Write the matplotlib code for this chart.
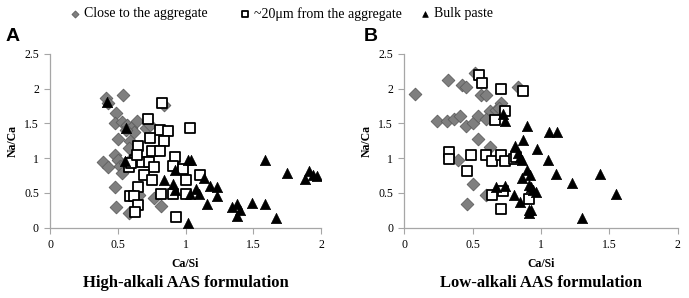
import matplotlib.pyplot as plt

# ---- data ----
# panel A: high-alkali
a_close_x = [0.41, 0.43, 0.54, 0.49, 0.48, 0.53, 0.57, 0.60, 0.62, 0.64, 0.71, 0.74, 0.50, 0.59,
             0.58, 0.48, 0.39, 0.43, 0.50, 0.52, 0.53, 0.55, 0.48, 0.49, 0.58, 0.66, 0.77, 0.82, 0.84,
             0.56, 0.60]
a_close_y = [1.86, 1.79, 1.91, 1.65, 1.50, 1.52, 1.48, 1.44, 1.38, 1.54, 1.43, 1.48, 1.27, 1.24,
             1.14, 1.05, 0.95, 0.87, 0.97, 0.89, 0.79, 0.93, 0.59, 0.30, 0.21, 0.47, 0.42, 0.31, 1.77,
             1.40, 0.99]
a_near_x = [0.83, 0.72, 0.81, 0.87, 1.03, 0.74, 0.84, 0.65, 0.75, 0.81, 0.92, 0.63, 0.68, 0.73,
            0.77, 0.58, 0.60, 0.91, 0.98, 0.69, 0.75, 0.65, 1.00, 0.82, 0.91, 1.00, 0.59, 0.62,
            0.65, 0.63, 0.93, 1.11, 0.64]
a_near_y = [1.79, 1.57, 1.41, 1.39, 1.43, 1.29, 1.24, 1.17, 1.10, 1.10, 1.01, 0.97, 0.95, 0.95,
            0.88, 0.88, 0.93, 0.89, 0.85, 0.76, 0.69, 0.59, 0.68, 0.49, 0.49, 0.48, 0.46, 0.45,
            0.32, 0.22, 0.16, 0.76, 1.05]
a_bulk_x = [1.02, 1.04, 0.92, 0.84, 0.91, 0.92, 1.14, 1.18, 1.23, 1.08, 1.10, 1.03, 1.23, 1.16,
            1.34, 1.38, 1.40, 1.38, 1.49, 1.59, 1.67, 1.02, 1.59, 1.75, 1.88, 1.91, 1.94, 1.97,
            0.42, 0.56, 0.55]
a_bulk_y = [0.98, 0.97, 0.83, 0.68, 0.63, 0.54, 0.71, 0.60, 0.58, 0.55, 0.48, 0.48, 0.45, 0.34,
            0.30, 0.34, 0.25, 0.17, 0.36, 0.34, 0.14, 0.07, 0.98, 0.79, 0.70, 0.81, 0.76, 0.74,
            1.81, 1.43, 0.96]

# panel B: low-alkali
b_close_x = [0.08, 0.24, 0.31, 0.36, 0.41, 0.32, 0.42, 0.45, 0.45, 0.50, 0.54, 0.52, 0.56, 0.60,
             0.63, 0.67, 0.60, 0.71, 0.69, 0.83, 0.54, 0.63, 0.39, 0.50, 0.46, 0.60]
b_close_y = [1.92, 1.53, 1.54, 1.57, 1.61, 2.12, 2.05, 2.03, 1.46, 1.50, 1.61, 2.23, 1.91, 1.91,
             1.68, 1.69, 1.57, 1.79, 1.72, 2.02, 1.27, 1.16, 0.97, 0.63, 0.34, 0.47]
b_near_x = [0.55, 0.57, 0.71, 0.87, 0.74, 0.66, 0.33, 0.33, 0.49, 0.60, 0.64, 0.71, 0.74, 0.80,
            0.82, 0.46, 0.64, 0.72, 0.71, 0.91]
b_near_y = [2.20, 2.08, 1.99, 1.97, 1.68, 1.55, 1.09, 0.99, 1.04, 1.05, 0.96, 1.05, 0.96, 0.99,
            1.02, 0.81, 0.47, 0.53, 0.27, 0.41]
b_bulk_x = [0.72, 0.74, 0.90, 1.06, 1.12, 0.81, 0.87, 0.97, 0.83, 0.85, 0.86, 1.05, 0.90, 0.92,
            0.86, 1.11, 0.91, 0.93, 0.67, 0.74, 0.94, 0.96, 0.80, 0.85, 0.91, 0.93, 0.91, 1.23,
            1.43, 1.55, 1.30]
b_bulk_y = [1.64, 1.53, 1.46, 1.37, 1.37, 1.18, 1.26, 1.13, 1.07, 1.02, 0.97, 0.98, 0.83, 0.76,
            0.72, 0.77, 0.61, 0.59, 0.58, 0.60, 0.54, 0.52, 0.47, 0.37, 0.25, 0.25, 0.21, 0.65,
            0.77, 0.49, 0.14]

labels = ['Close to the aggregate', '~20\u03bcm from the aggregate', 'Bulk paste']
subtitles = ['High-alkali AAS formulation', 'Low-alkali AAS formulation']
panel_tags = ['A', 'B']

serif = 'Liberation Serif'
axis_grey = '#a6a6a6'

fig = plt.figure(figsize=(6.89, 2.98), dpi=100)
ax_a = fig.add_axes([0.0726, 0.236, 0.3933, 0.583])
ax_b = fig.add_axes([0.5868, 0.236, 0.3968, 0.583])

panels = [
    (ax_a, a_close_x, a_close_y, a_near_x, a_near_y, a_bulk_x, a_bulk_y),
    (ax_b, b_close_x, b_close_y, b_near_x, b_near_y, b_bulk_x, b_bulk_y),
]

for i, (ax, cx, cy, nx, ny, bx, by) in enumerate(panels):
    h1 = ax.scatter(cx, cy, marker='D', s=42, facecolor='#7f7f7f', edgecolor='#5e5e5e',
                    linewidth=0.6, zorder=2)
    h2 = ax.scatter(nx, ny, marker='s', s=55, facecolor='white', edgecolor='black',
                    linewidth=1.3, zorder=3)
    h3 = ax.scatter(bx, by, marker='^', s=55, facecolor='black', edgecolor='black',
                    linewidth=0.5, zorder=4)
    ax.set_xlim(0, 2)
    ax.set_ylim(0, 2.5)
    ax.set_xticks([0, 0.5, 1, 1.5, 2])
    ax.set_xticklabels(['0', '0.5', '1', '1.5', '2'])
    ax.set_yticks([0, 0.5, 1, 1.5, 2, 2.5])
    ax.set_yticklabels(['0', '0.5', '1', '1.5', '2', '2.5'])
    for s in ['top', 'right']:
        ax.spines[s].set_visible(False)
    for s in ['left', 'bottom']:
        ax.spines[s].set_color(axis_grey)
        ax.spines[s].set_linewidth(0.9)
    ax.tick_params(direction='out', length=4, width=0.8, color=axis_grey, pad=4)
    for t in ax.get_xticklabels() + ax.get_yticklabels():
        t.set_family(serif)
        t.set_fontsize(8.5)
    ax.set_xlabel('Ca/Si', family=serif, fontweight='bold', fontsize=8.5, labelpad=5)
    ax.set_ylabel('Na/Ca', family=serif, fontweight='bold', fontsize=8.5, labelpad=4)
    ax.text(0.5, -0.318, subtitles[i], transform=ax.transAxes, ha='center', va='center',
            family=serif, fontweight='bold', fontsize=12)
    ax.text(-0.165 if i == 0 else -0.15, 1.05, panel_tags[i], transform=ax.transAxes,
            ha='left', va='bottom', family='Liberation Sans', fontweight='bold', fontsize=14)

# legend entries placed one by one (uneven spacing in the original)
legend_left = [0.1009, 0.3476, 0.6088]
for h, lab, x0 in zip([h1, h2, h3], labels, legend_left):
    leg = fig.legend([h], [lab], loc='center left', bbox_to_anchor=(x0, 1 - 14 / 298),
                     frameon=False, markerscale=0.55, handlelength=0.8, handletextpad=0.25,
                     borderpad=0, borderaxespad=0, prop={'family': serif, 'size': 10})

fig.savefig('out.png', dpi=100)
